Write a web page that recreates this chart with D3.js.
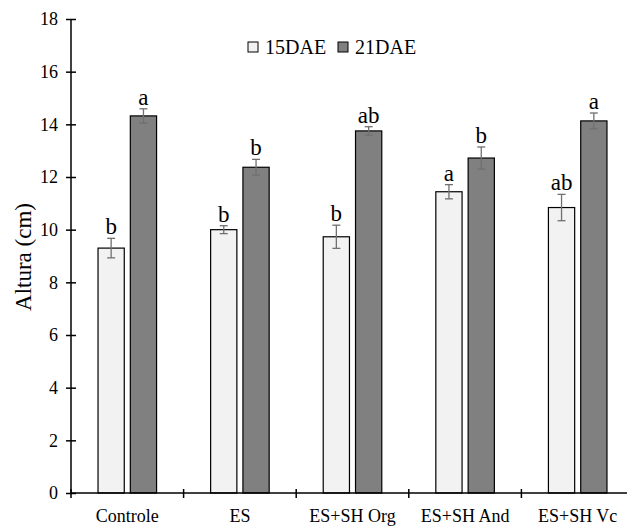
<!DOCTYPE html>
<html>
<head>
<meta charset="utf-8">
<script src="https://cdn.jsdelivr.net/npm/d3@7"></script>
<style>
  html, body { margin: 0; padding: 0; background: #fff; }
  svg { display: block; }
</style>
</head>
<body>
<svg id="chart" width="627" height="527"></svg>
<script>
// Treatments on the x axis
const categories = ["Controle", "ES", "ES+SH Org", "ES+SH And", "ES+SH Vc"];
// Sampling dates
const seriesNames = ["15DAE", "21DAE"];
// Mean plant height (cm)
const values15 = [9.3, 10.0, 9.73, 11.44, 10.84];
const values21 = [14.32, 12.37, 13.75, 12.72, 14.13];
// Standard error
const errors15 = [0.37, 0.15, 0.44, 0.27, 0.5];
const errors21 = [0.27, 0.3, 0.16, 0.42, 0.3];
// Mean-separation letters
const letters15 = ["b", "b", "b", "a", "ab"];
const letters21 = ["a", "b", "ab", "b", "a"];
// Y axis ticks
const yTicks = [0, 2, 4, 6, 8, 10, 12, 14, 16, 18];

const FONT = "'Liberation Serif', 'Times New Roman', serif";
const svg = d3.select("#chart");
const fills = ["#f2f2f2", "#808080"];

const y = d3.scaleLinear().domain([0, 18]).range([493, 19]);
const x0 = d3.scaleBand().domain(categories).range([71, 634]).paddingInner(0).paddingOuter(0);
const bw = x0.bandwidth();
const x1 = d3.scaleBand().domain(seriesNames)
  .range([bw * 0.24, bw * 0.76]).paddingInner(0.1875).paddingOuter(0);

const rows = categories.map((c, i) => ({
  cat: c,
  bars: [
    { s: seriesNames[0], v: values15[i], e: errors15[i], l: letters15[i] },
    { s: seriesNames[1], v: values21[i], e: errors21[i], l: letters21[i] }
  ]
}));

const groups = svg.append("g").selectAll("g").data(rows).join("g")
  .attr("transform", d => `translate(${x0(d.cat)},0)`);

groups.selectAll("rect").data(d => d.bars).join("rect")
  .attr("x", d => x1(d.s))
  .attr("y", d => y(d.v))
  .attr("width", x1.bandwidth())
  .attr("height", d => y(0) - y(d.v))
  .attr("fill", (d, i) => fills[i])
  .attr("stroke", "#000")
  .attr("stroke-width", 1.2);

// Error bars
const cx = d => x1(d.s) + x1.bandwidth() / 2;
const eb = groups.selectAll("g.err").data(d => d.bars).join("g").attr("class", "err")
  .attr("stroke", "#707070").attr("stroke-width", 1.3);
eb.append("line")
  .attr("x1", cx).attr("x2", cx)
  .attr("y1", d => y(d.v + d.e)).attr("y2", d => y(d.v - d.e));
eb.append("line")
  .attr("x1", d => cx(d) - 4).attr("x2", d => cx(d) + 4)
  .attr("y1", d => y(d.v + d.e)).attr("y2", d => y(d.v + d.e));
eb.append("line")
  .attr("x1", d => cx(d) - 4).attr("x2", d => cx(d) + 4)
  .attr("y1", d => y(d.v - d.e)).attr("y2", d => y(d.v - d.e));

// Letters above bars
groups.selectAll("text.lab").data(d => d.bars).join("text").attr("class", "lab")
  .attr("x", cx)
  .attr("y", d => y(d.v + d.e) - 4)
  .attr("text-anchor", "middle")
  .style("font-family", FONT)
  .style("font-size", "23px")
  .text(d => d.l);

// Y axis
const yAxis = svg.append("g").attr("transform", "translate(71,0)")
  .call(d3.axisLeft(y).tickValues(yTicks).tickSize(5).tickPadding(8));
yAxis.selectAll(".tick line").attr("x2", 5).attr("x1", -5);
yAxis.select(".domain").attr("d", `M0,${y(18)}V${y(0)}`);

// X axis
const xAxis = svg.append("g").attr("transform", `translate(0,${y(0)})`)
  .call(d3.axisBottom(x0).tickSize(0).tickPadding(16));
xAxis.select(".domain").remove();
xAxis.append("line").attr("x1", 71).attr("x2", 634).attr("stroke", "#000");
xAxis.selectAll(".bounds").data(d3.range(categories.length + 1)).join("line")
  .attr("x1", i => 71 + i * bw).attr("x2", i => 71 + i * bw)
  .attr("y1", -4).attr("y2", 5).attr("stroke", "#000");

svg.selectAll(".domain, .tick line, g > line").attr("stroke-width", 1.5);
svg.selectAll(".err line").attr("stroke-width", 1.3);
[yAxis, xAxis].forEach(ax => ax.selectAll("text")
  .attr("fill", "#000")
  .style("font-family", FONT)
  .style("font-size", "18px"));

// Axis title
svg.append("text")
  .attr("transform", "translate(31,257) rotate(-90)")
  .attr("text-anchor", "middle")
  .style("font-family", FONT)
  .style("font-size", "23px")
  .text("Altura (cm)");

// Legend
const legend = svg.append("g");
const legendX = [248, 338];
seriesNames.forEach((s, i) => {
  legend.append("rect").attr("x", legendX[i]).attr("y", 42).attr("width", 10).attr("height", 10)
    .attr("fill", fills[i]).attr("stroke", "#000").attr("stroke-width", 1);
  legend.append("text").attr("x", legendX[i] + 17).attr("y", 54)
    .style("font-family", FONT).style("font-size", "20px").text(s);
});
</script>
</body>
</html>
